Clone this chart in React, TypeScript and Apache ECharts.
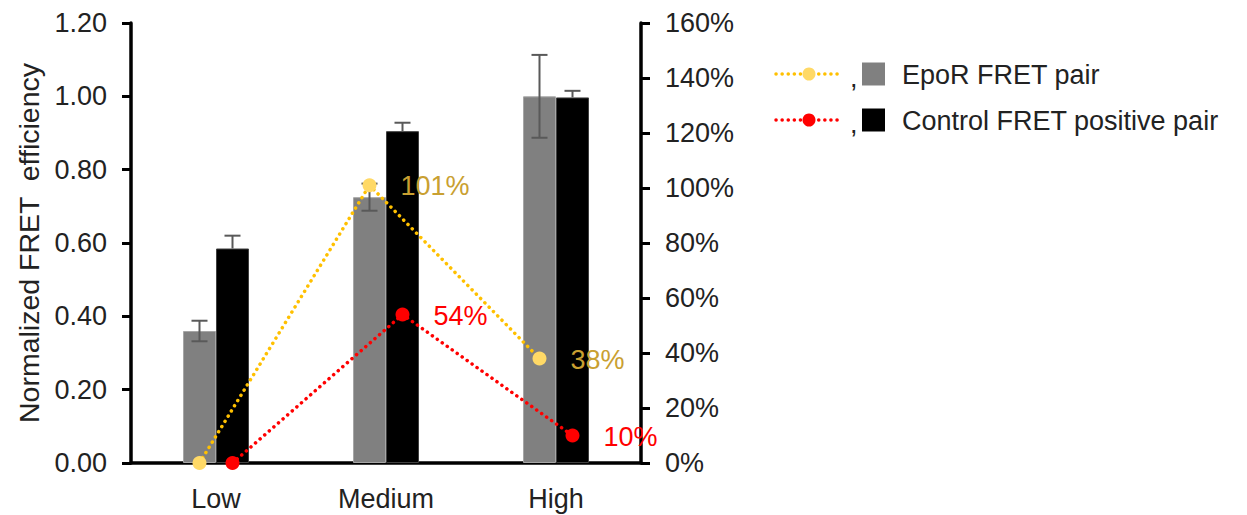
import React, { useEffect, useRef } from "react";
import * as echarts from "echarts";

const categories = ["Low", "Medium", "High"];
const epoBars = [0.36, 0.725, 1.0];
const epoErr = [0.028, 0.037, 0.113];
const ctrlBars = [0.585, 0.905, 0.997];
const ctrlErr = [0.035, 0.023, 0.018];
const epoPct = [0, 101, 38];
const ctrlPct = [0, 54, 10];
const leftTicks = { min: 0, max: 1.2, interval: 0.2 };
const rightTicks = { min: 0, max: 160, interval: 20 };
const legendNames = ["EpoR FRET pair", "Control FRET positive pair"];

const FONT = "Arial, 'Liberation Sans', sans-serif";
const TXT = "#222";
const BAR_W = 33;
const GREY = "#808080";
const ERR = "#595959";
const YEL_LINE = "#FFC000";
const YEL_DOT = "#FFD966";
const YEL_TXT = "#C9A031";
const RED = "#FF0000";
const DOTS = { lineWidth: 3.5, lineDash: [0.1, 6], lineCap: "round" };

function errorSeries(values: number[], errs: number[], offset: number, plusOnly: boolean) {
  return {
    type: "custom",
    xAxisIndex: 0,
    yAxisIndex: 0,
    z: 5,
    data: values.map((v, i) => [i, v, errs[i]]),
    renderItem: (params: any, api: any) => {
      const idx = api.value(0);
      const v = api.value(1);
      const e = api.value(2);
      const x = api.coord([idx, v])[0] + offset;
      const yTop = api.coord([idx, v + e])[1];
      const yBot = plusOnly ? api.coord([idx, v])[1] : api.coord([idx, v - e])[1];
      const cap = 8;
      const st = { stroke: ERR, lineWidth: 2 };
      const children: any[] = [
        { type: "line", shape: { x1: x, y1: yTop, x2: x, y2: yBot }, style: st },
        { type: "line", shape: { x1: x - cap, y1: yTop, x2: x + cap, y2: yTop }, style: st },
      ];
      if (!plusOnly) {
        children.push({ type: "line", shape: { x1: x - cap, y1: yBot, x2: x + cap, y2: yBot }, style: st });
      }
      return { type: "group", children };
    },
  };
}

function lineSeries(values: number[], offset: number, lineColor: string, dotColor: string, txtColor: string) {
  return {
    type: "custom",
    xAxisIndex: 0,
    yAxisIndex: 1,
    z: 6,
    clip: false,
    data: values.map((v, i) => [i, v]),
    renderItem: (params: any, api: any) => {
      const idx = api.value(0);
      const v = api.value(1);
      const p = api.coord([idx, v]);
      const x = p[0] + offset;
      const y = p[1];
      const children: any[] = [];
      if (idx > 0) {
        const q = api.coord([idx - 1, values[idx - 1]]);
        children.push({
          type: "line",
          z2: 1,
          shape: { x1: q[0] + offset, y1: q[1], x2: x, y2: y },
          style: { stroke: lineColor, ...DOTS },
        });
      }
      children.push({ type: "circle", z2: 2, shape: { cx: x, cy: y, r: 7 }, style: { fill: dotColor } });
      if (v > 0) {
        children.push({
          type: "text",
          z2: 3,
          x: x + 31,
          y: y + 1,
          style: {
            text: v + "%",
            fill: txtColor,
            font: `27px ${FONT}`,
            verticalAlign: "middle",
            align: "left",
          },
        });
      }
      return { type: "group", children };
    },
  };
}

function legendRow(y: number, lineColor: string, dotColor: string, boxColor: string, label: string) {
  return [
    {
      type: "line",
      shape: { x1: 776, y1: y, x2: 842, y2: y },
      style: { stroke: lineColor, ...DOTS },
    },
    { type: "circle", shape: { cx: 809, cy: y, r: 6.5 }, style: { fill: dotColor } },
    { type: "text", x: 850, y: y + 4, style: { text: ",", fill: TXT, font: `27px ${FONT}`, verticalAlign: "middle" } },
    { type: "rect", shape: { x: 862, y: y - 11.5, width: 23, height: 23 }, style: { fill: boxColor } },
    { type: "text", x: 902, y: y + 1, style: { text: label, fill: TXT, font: `27px ${FONT}`, verticalAlign: "middle" } },
  ];
}

export default function App() {
  const ref = useRef<HTMLDivElement>(null);
  useEffect(() => {
    document.body.style.margin = "0";
    const chart = echarts.init(ref.current!, undefined, { renderer: "svg" });
    const axisLine = { show: true, lineStyle: { color: "#000", width: 3.5 } };
    const axisTick = { show: true, inside: false, length: 9, lineStyle: { color: "#000", width: 3 } };
    chart.setOption({
      animation: false,
      backgroundColor: "#fff",
      textStyle: { fontFamily: FONT },
      grid: { left: 131, top: 23, width: 510, height: 440, containLabel: false },
      xAxis: [
        {
          type: "category",
          data: categories,
          axisLine,
          axisTick: { show: false },
          axisLabel: { fontSize: 27, color: TXT, margin: 22, fontFamily: FONT },
        },
      ],
      yAxis: [
        {
          type: "value",
          position: "left",
          min: leftTicks.min,
          max: leftTicks.max,
          interval: leftTicks.interval,
          axisLine,
          axisTick,
          splitLine: { show: false },
          axisLabel: {
            fontSize: 27,
            color: TXT,
            margin: 24,
            fontFamily: FONT,
            formatter: (v: number) => v.toFixed(2),
          },
          name: "Normalized FRET  efficiency",
          nameLocation: "middle",
          nameGap: 88,
          nameRotate: 90,
          nameTextStyle: { fontSize: 28.5, color: TXT, fontFamily: FONT },
        },
        {
          type: "value",
          position: "right",
          min: rightTicks.min,
          max: rightTicks.max,
          interval: rightTicks.interval,
          axisLine,
          axisTick,
          splitLine: { show: false },
          axisLabel: {
            fontSize: 27,
            color: TXT,
            margin: 24,
            fontFamily: FONT,
            formatter: (v: number) => v + "%",
          },
        },
      ],
      series: [
        {
          type: "bar",
          name: legendNames[0],
          data: epoBars,
          barWidth: BAR_W,
          barGap: "0%",
          itemStyle: { color: GREY, borderColor: "#a6a6a6", borderWidth: 1 },
          z: 2,
        },
        {
          type: "bar",
          name: legendNames[1],
          data: ctrlBars,
          barWidth: BAR_W,
          barGap: "0%",
          itemStyle: { color: "#000", borderColor: "#404040", borderWidth: 1 },
          z: 2,
        },
        errorSeries(epoBars, epoErr, -BAR_W / 2, false),
        errorSeries(ctrlBars, ctrlErr, BAR_W / 2, true),
        lineSeries(epoPct, -BAR_W / 2, YEL_LINE, YEL_DOT, YEL_TXT),
        lineSeries(ctrlPct, BAR_W / 2, RED, RED, RED),
      ],
      graphic: [
        ...legendRow(74, YEL_LINE, YEL_DOT, GREY, legendNames[0]),
        ...legendRow(120, RED, RED, "#000", legendNames[1]),
      ],
    });
    return () => chart.dispose();
  }, []);
  return <div ref={ref} style={{ width: 1247, height: 515 }} />;
}
